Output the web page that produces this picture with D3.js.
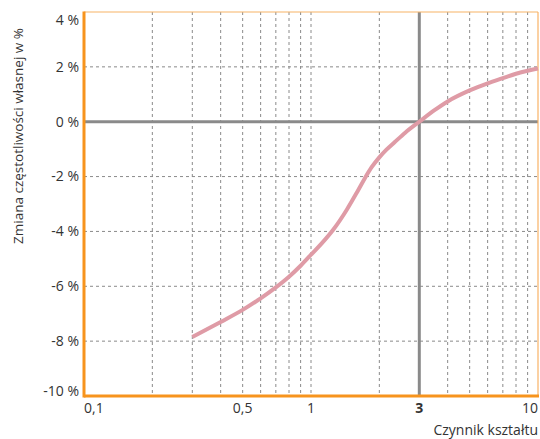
<!DOCTYPE html>
<html><head><meta charset="utf-8">
<script src="https://cdn.jsdelivr.net/npm/d3@7"></script>
<style>body{margin:0;background:#fff}svg{display:block}text{font-family:"Open Sans",sans-serif;fill:#333}</style>
</head><body><svg id="c" width="540" height="439"></svg>
<script>
const xs = [0.3,0.4,0.5,0.6,0.7,0.8,0.9,1.0,1.12,1.25,1.44,1.6,1.73,1.85,2.0,2.15,2.34,2.6,3.0,3.5,4,5,6,7,8,9,10];
const ys = [-7.85,-7.3,-6.86,-6.44,-6.04,-5.65,-5.25,-4.85,-4.42,-3.95,-3.2,-2.55,-2.05,-1.66,-1.30,-1.02,-0.74,-0.40,0,0.42,0.74,1.14,1.40,1.59,1.75,1.86,1.94];
const xTicks = [0.1,0.5,1,3,10];
const xTickLabels = ["0,1","0,5","1","3","10"];
const xGrid = [0.2,0.3,0.4,0.5,0.6,0.7,0.8,0.9,1,2,4,5,6,7,8,9];
const yTicks = [4,2,0,-2,-4,-6,-8,-10];
const yTickLabels = ["4 %","2 %","0 %","-2 %","-4 %","-6 %","-8 %","-10 %"];

const svg = d3.select("#c");
const L=84,R=538,T=12,B=396;
const x = d3.scaleLog().domain([0.1,10]).range([L,R]);
const y = d3.scaleLinear().domain([-10,4]).range([B,T]);
const gray="#8a8a8a", orange="#f7941d";

const g = svg.append("g");
g.selectAll(".vg").data(xGrid).join("line")
 .attr("x1",d=>x(d)).attr("x2",d=>x(d)).attr("y1",T).attr("y2",B)
 .attr("stroke",gray).attr("stroke-width",1).attr("stroke-dasharray","3,3");
g.selectAll(".hg").data(yTicks.filter(d=>d!==0&&d!==4&&d!==-10)).join("line")
 .attr("x1",L).attr("x2",R).attr("y1",d=>y(d)).attr("y2",d=>y(d))
 .attr("stroke",gray).attr("stroke-width",1).attr("stroke-dasharray","3,3");
g.append("line").attr("x1",L).attr("x2",R).attr("y1",y(0)).attr("y2",y(0)).attr("stroke",gray).attr("stroke-width",3);
g.append("line").attr("x1",x(3)).attr("x2",x(3)).attr("y1",T).attr("y2",B).attr("stroke",gray).attr("stroke-width",3);

// borders
g.append("line").attr("x1",L).attr("x2",R).attr("y1",T).attr("y2",T).attr("stroke","#f8b366").attr("stroke-width",1.2);
g.append("line").attr("x1",R).attr("x2",R).attr("y1",T).attr("y2",B).attr("stroke","#f8b366").attr("stroke-width",1.2);

// curve
const line = d3.line().x(d=>x(d[0])).y(d=>y(d[1])).curve(d3.curveMonotoneX);
g.append("path").datum(xs.map((v,i)=>[v,ys[i]])).attr("d",line)
 .attr("fill","none").attr("stroke","#df9ba6").attr("stroke-width",4).attr("stroke-linecap","butt");

g.append("line").attr("x1",L).attr("x2",R+1).attr("y1",B).attr("y2",B).attr("stroke",orange).attr("stroke-width",3);
g.append("line").attr("x1",L).attr("x2",L).attr("y1",T-0.5).attr("y2",B+1.5).attr("stroke",orange).attr("stroke-width",3);

// y labels
g.selectAll(".yl").data(yTicks).join("text")
 .attr("x",79).attr("y",(d,i)=>y(d)+(d===4?8:d===-10?-5:0)).attr("dy","0.35em")
 .attr("text-anchor","end").attr("font-size",14).text((d,i)=>yTickLabels[i]);
// x labels
g.selectAll(".xl").data(xTicks).join("text")
 .attr("x",d=>x(d)).attr("y",413)
 .attr("text-anchor",(d,i)=>i===0?"start":i===xTicks.length-1?"end":"middle")
 .attr("font-size",14).attr("font-weight",d=>d===3?"bold":"normal").text((d,i)=>xTickLabels[i]);

svg.append("text").attr("x",538).attr("y",435).attr("text-anchor","end").attr("font-size",14).text("Czynnik kształtu");
svg.append("text").attr("transform","translate(23,136) rotate(-90)").attr("text-anchor","middle").attr("font-size",13.5).text("Zmiana częstotliwości własnej w %");
</script></body></html>
